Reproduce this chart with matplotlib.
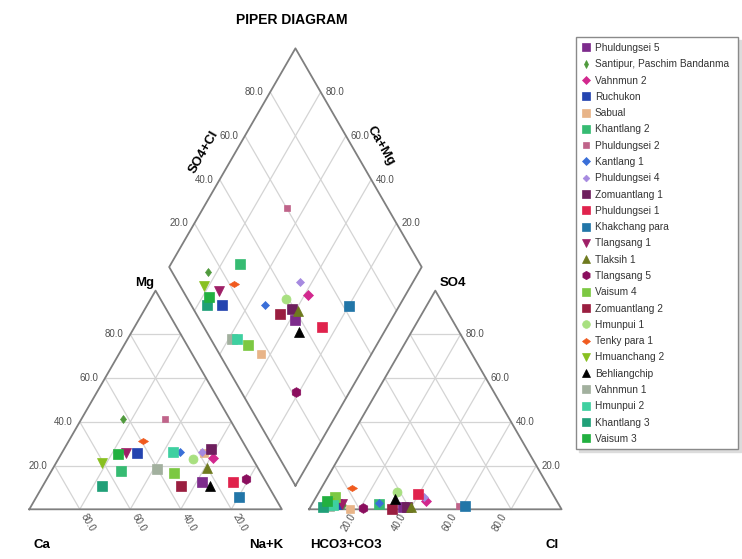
import matplotlib
matplotlib.use('Agg')

import matplotlib.pyplot as plt
from matplotlib.markers import MarkerStyle
from matplotlib.transforms import Affine2D
import numpy as np

plt.rcParams['font.family'] = ['Liberation Sans', 'DejaVu Sans']

# Probenpunkte (Prozent meq/l)
names = [
    "Phuldungsei 5", "Santipur, Paschim Bandanma", "Vahnmun 2", "Ruchukon",
    "Sabual", "Khantlang 2", "Phuldungsei 2", "Kantlang 1", "Phuldungsei 4",
    "Zomuantlang 1", "Phuldungsei 1", "Khakchang para", "Tlangsang 1",
    "Tlaksih 1", "Tlangsang 5", "Vaisum 4", "Zomuantlang 2", "Hmunpui 1",
    "Tenky para 1", "Hmuanchang 2", "Behliangchip", "Vahnmun 1", "Hmunpui 2",
    "Khantlang 3", "Vaisum 3",
]
ca = [25.5, 42.2, 15.5, 44.7, 17.9, 55.0, 25.6, 27.2, 18.4, 14.3, 13.3, 13.9, 48.9,
      20.4, 7.3, 34.3, 34.5, 23.6, 39.1, 60.7, 23.1, 40.4, 30.1, 65.9, 52.0]
mg = [12.6, 41.2, 23.3, 25.6, 25.6, 17.6, 41.3, 26.3, 26.3, 27.4, 12.3, 5.8, 25.9,
      18.7, 13.9, 16.7, 10.8, 22.9, 31.4, 21.3, 10.7, 18.3, 26.3, 10.7, 25.5]
nak = [61.9, 16.6, 61.2, 29.7, 56.5, 27.4, 33.1, 46.5, 55.3, 58.3, 74.4, 80.3, 25.2,
       60.9, 78.8, 49.0, 54.7, 53.5, 29.5, 18.0, 66.2, 41.3, 43.6, 23.4, 22.5]
hco3 = [62.2, 85.6, 51.5, 87.9, 83.5, 71.2, 39.7, 70.8, 51.7, 60.9, 53.2, 37.5, 85.7,
        59.2, 78.2, 86.8, 67.0, 61.3, 78.3, 90.6, 63.6, 91.5, 89.5, 93.8, 91.0]
so4 = [1.0, 2.0, 4.0, 2.3, 0.3, 2.5, 1.5, 2.7, 5.5, 1.0, 7.0, 1.5, 2.3,
       1.2, 0.5, 5.8, 0.2, 8.0, 9.6, 3.0, 4.6, 1.5, 2.0, 1.0, 4.0]
cl = [36.8, 12.4, 44.5, 9.8, 16.2, 26.3, 58.8, 26.5, 42.8, 38.1, 39.8, 61.0, 12.0,
      39.6, 21.3, 7.4, 32.8, 30.7, 12.1, 6.4, 31.8, 7.0, 8.5, 5.2, 5.0]
tick_values = [20, 40, 60, 80]

# Darstellung der Symbole
tenky = MarkerStyle('d', transform=Affine2D().rotate_deg(90))
styles = {
    "Phuldungsei 5": ('s', '#7d2b8c', 6.5),
    "Santipur, Paschim Bandanma": ('d', '#4f9a3c', 4.5),
    "Vahnmun 2": ('D', '#d2288e', 5.0),
    "Ruchukon": ('s', '#2444b0', 6.5),
    "Sabual": ('s', '#e8b488', 6.0),
    "Khantlang 2": ('s', '#36bb72', 6.5),
    "Phuldungsei 2": ('s', '#c0648a', 5.0),
    "Kantlang 1": ('D', '#3a6fd8', 4.5),
    "Phuldungsei 4": ('D', '#a68ae0', 4.0),
    "Zomuantlang 1": ('s', '#6e1f5e', 6.5),
    "Phuldungsei 1": ('s', '#e0224c', 6.5),
    "Khakchang para": ('s', '#2276a8', 6.5),
    "Tlangsang 1": ('v', '#9e1f66', 6.5),
    "Tlaksih 1": ('^', '#6e7a1e', 6.5),
    "Tlangsang 5": ('h', '#8a0e5e', 7.0),
    "Vaisum 4": ('s', '#7cc842', 6.5),
    "Zomuantlang 2": ('s', '#9a1e40', 6.5),
    "Hmunpui 1": ('o', '#a8e080', 6.5),
    "Tenky para 1": (tenky, '#f05a1e', 5.0),
    "Hmuanchang 2": ('v', '#88c020', 6.5),
    "Behliangchip": ('^', '#000000', 6.5),
    "Vahnmun 1": ('s', '#a2b09e', 6.5),
    "Hmunpui 2": ('s', '#3ed0a0', 6.5),
    "Khantlang 3": ('s', '#20a078', 6.5),
    "Vaisum 3": ('s', '#22b040', 6.5),
}

H = np.sqrt(3) / 2
GAP = 0.108
X_RIGHT = 1 + GAP
BX, BY = 1 + GAP / 2, GAP * H
EDGE = '#7f7f7f'
GRID = '#d4d4d4'
TICK = '#505050'


def tri_xy(right, top, x0=0.0):
    return x0 + right + top / 2, top * H


def diamond_xy(cm, sc):
    return BX - 0.5 * cm + 0.5 * sc, BY + H * (cm + sc)


fig = plt.figure(figsize=(7.42, 5.59), dpi=100)
ax = fig.add_axes([0, 0, 1, 1])
ax.set_xlim(-29.3 / 252.5, (742 - 29.3) / 252.5)
ax.set_ylim((509.3 - 559) / 252.5, 509.3 / 252.5)
ax.axis('off')

# Gitter
for k in np.array(tick_values) / 100:
    for x0 in (0.0, X_RIGHT):
        segs = [
            (tri_xy(0, k, x0), tri_xy(1 - k, k, x0)),
            (tri_xy(k, 0, x0), tri_xy(k, 1 - k, x0)),
            (tri_xy(1 - k, 0, x0), tri_xy(0, 1 - k, x0)),
        ]
        for p, q in segs:
            ax.plot([p[0], q[0]], [p[1], q[1]], color=GRID, lw=0.9, zorder=1)
    for p, q in [(diamond_xy(k, 0), diamond_xy(k, 1)), (diamond_xy(0, k), diamond_xy(1, k))]:
        ax.plot([p[0], q[0]], [p[1], q[1]], color=GRID, lw=0.9, zorder=1)

# Umrisse
for x0 in (0.0, X_RIGHT):
    ax.plot([x0, x0 + 1, x0 + 0.5, x0], [0, 0, H, 0], color=EDGE, lw=1.3, zorder=2)
corners = [diamond_xy(0, 0), diamond_xy(0, 1), diamond_xy(1, 1), diamond_xy(1, 0), diamond_xy(0, 0)]
ax.plot([c[0] for c in corners], [c[1] for c in corners], color=EDGE, lw=1.3, zorder=2)

# Achsenbeschriftung
tk = dict(fontsize=7, color=TICK)
for t in tick_values:
    k = t / 100
    lbl = f"{t:.1f}"
    # Mg (links)
    ax.text(k / 2 - 0.028, k * H, lbl, ha='right', va='center', **tk)
    # Ca (unten links)
    ax.text(1 - k + 0.014, -0.02, lbl, ha='left', va='center', rotation=-60,
            rotation_mode='anchor', **tk)
    # SO4 (rechts)
    ax.text(X_RIGHT + 1 - k / 2 + 0.02, k * H, lbl, ha='left', va='center', **tk)
    # Cl (unten rechts)
    ax.text(X_RIGHT + k - 0.026, -0.02, lbl, ha='right', va='center', rotation=60,
            rotation_mode='anchor', **tk)
    # Raute
    px, py = diamond_xy(1, k)
    ax.text(px - 0.025, py, lbl, ha='right', va='center', **tk)
    px, py = diamond_xy(k, 1)
    ax.text(px + 0.02, py, lbl, ha='left', va='center', **tk)

lab = dict(fontsize=9.5, fontweight='bold', color='black')
ax.text(0.05, -0.141, "Ca", ha='center', va='center', **lab)
ax.text(0.937, -0.141, "Na+K", ha='center', va='center', **lab)
ax.text(0.458, 0.897, "Mg", ha='center', va='center', **lab)
ax.text(1.254, -0.141, "HCO3+CO3", ha='center', va='center', **lab)
ax.text(2.07, -0.141, "Cl", ha='center', va='center', **lab)
ax.text(1.678, 0.897, "SO4", ha='center', va='center', **lab)
ax.text(0.6926, 1.4158, "SO4+Cl", ha='center', va='center', rotation=60, **lab)
ax.text(1.393, 1.439, "Ca+Mg", ha='center', va='center', rotation=-60, **lab)
ax.text(1.04, 1.937, "PIPER DIAGRAM", ha='center', va='center', fontsize=10,
        fontweight='bold')

# Punkte
handles = []
for i, name in enumerate(names):
    marker, color, size = styles[name]
    tot_c = ca[i] + mg[i] + nak[i]
    tot_a = hco3[i] + so4[i] + cl[i]
    cx, cy = tri_xy(nak[i] / tot_c, mg[i] / tot_c)
    axx, ayy = tri_xy(cl[i] / tot_a, so4[i] / tot_a, X_RIGHT)
    dx, dy = diamond_xy((ca[i] + mg[i]) / tot_c, (so4[i] + cl[i]) / tot_a)
    kw = dict(marker=marker, color=color, markersize=size, linestyle='none',
              markeredgewidth=0.5, markeredgecolor=color, zorder=3)
    h, = ax.plot([cx], [cy], label=name, **kw)
    ax.plot([axx], [ayy], **kw)
    ax.plot([dx], [dy], **kw)
    handles.append(h)

leg = ax.legend(handles=handles, loc='upper left',
                bbox_to_anchor=(576 / 742, 1 - 43 / 559, (738 - 576) / 742, 0.01),
                bbox_transform=fig.transFigure, mode='expand', fontsize=7.3,
                labelspacing=0.62, handlelength=0.8, handletextpad=0.5,
                borderpad=0.55, borderaxespad=0, numpoints=1, markerscale=0.85,
                fancybox=False, framealpha=1,
                shadow={'color': '#dcdcdc', 'alpha': 1})
leg.get_frame().set_edgecolor('#8a8a8a')
leg.get_frame().set_linewidth(1.0)
for t in leg.get_texts():
    t.set_color('#333333')

fig.savefig("out.png", dpi=100)
